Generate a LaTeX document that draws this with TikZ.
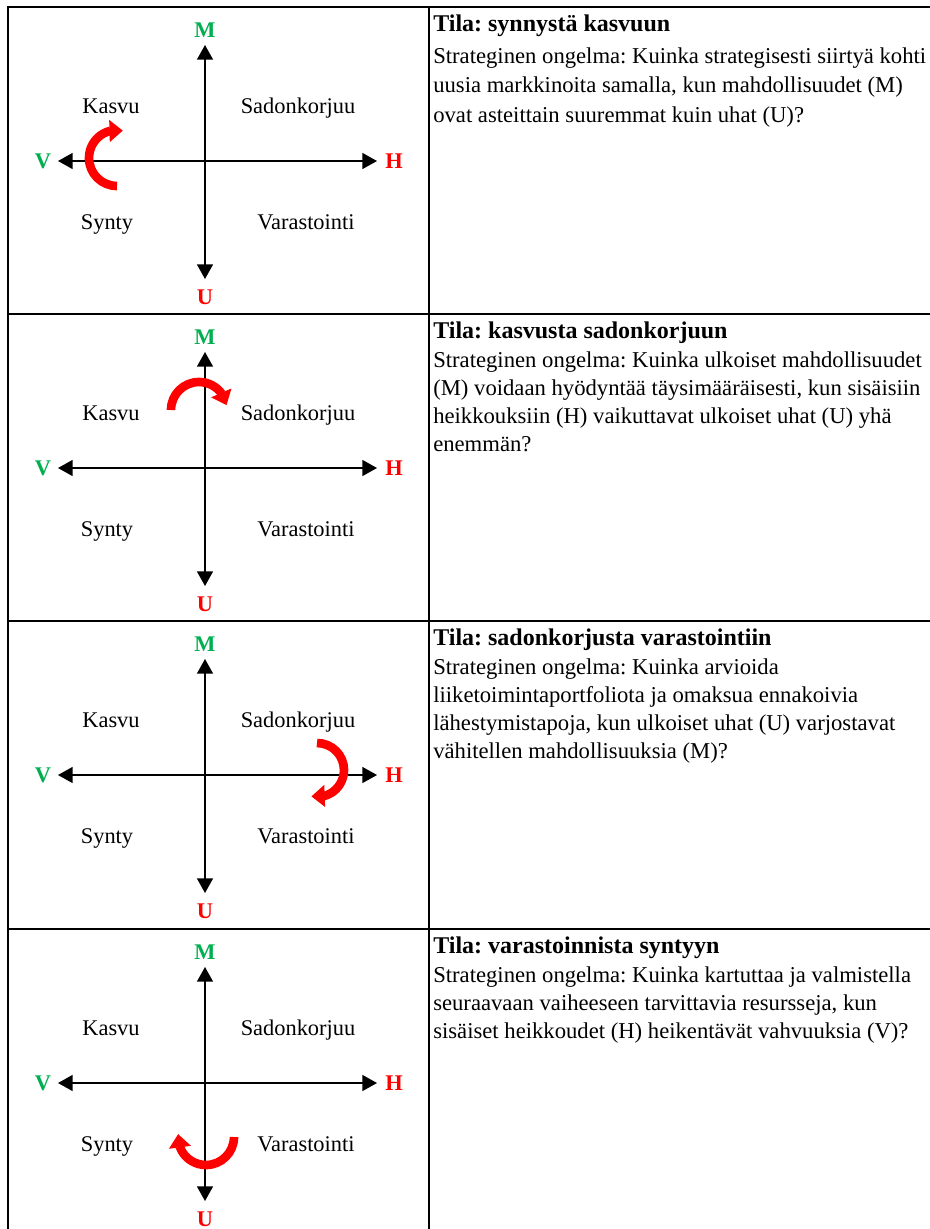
\documentclass[tikz,border=0pt]{standalone}
\usepackage{fontspec}
\setmainfont{Liberation Serif}
\usetikzlibrary{arrows.meta,bending}
\definecolor{xlgreen}{RGB}{0,176,80}
\definecolor{xlred}{RGB}{255,0,0}
\frenchspacing
\begin{document}
\begin{tikzpicture}[x=0.75pt,y=-0.75pt,
  gridline/.style={line width=1.6pt, black},
  axis/.style={line width=1.1pt, {Triangle[width=12pt,length=11pt]}-{Triangle[width=12pt,length=11pt]}},
  quad/.style={font=\fontsize{16.8}{20}\selectfont, inner sep=0pt, anchor=base},
  posl/.style={quad, font=\fontsize{16.8}{20}\selectfont\bfseries, text=xlgreen},
  negl/.style={quad, font=\fontsize{16.8}{20}\selectfont\bfseries, text=xlred},
  head/.style={font=\fontsize{18}{21}\selectfont\bfseries, inner sep=0pt, anchor=base west},
  desc/.style={font=\fontsize{17}{21}\selectfont, inner sep=0pt, anchor=north west, align=left},
  turn/.style={draw=xlred, line width=6.5pt, line cap=butt, -{Triangle[width=16pt,length=10pt,flex]}}]
\useasboundingbox (0,0) rectangle (930,1229);
% table grid
\coordinate (tl) at (8,7);
\coordinate (tr) at (930,7);
\coordinate (bl) at (8,1229);
\coordinate (cm) at (429,7);
\coordinate (cb) at (429,1229);
\draw[gridline] (tr) -- (tl) -- (bl);
\draw[gridline] (cm) -- (cb);
\foreach \y [count=\k] in {314,621,929}{
  \coordinate (rl\k) at (8,\y);
  \coordinate (rr\k) at (930,\y);
  \draw[gridline] (rl\k) -- (rr\k);
}
% quadrant diagrams
\foreach \i/\T in {1/7,2/314,3/621,4/929}{
  \begin{scope}[shift={(0,\T)}]
    \coordinate (top\i) at (205,38);
    \coordinate (bot\i) at (205,272);
    \coordinate (lft\i) at (58,154);
    \coordinate (rgt\i) at (377,154);
    \draw[axis] (top\i) -- (bot\i);
    \draw[axis] (lft\i) -- (rgt\i);
    \node[posl] (M\i) at (205,30) {M};
    \node[negl] (U\i) at (205,297) {U};
    \node[posl] (V\i) at (43,161) {V};
    \node[negl] (H\i) at (394,161) {H};
    \node[quad] (kasvu\i) at (111,106) {Kasvu};
    \node[quad] (sado\i) at (298,106) {Sadonkorjuu};
    \node[quad] (synty\i) at (107,222) {Synty};
    \node[quad] (vara\i) at (306,222) {Varastointi};
  \end{scope}
}
% red turning arrows
\coordinate (c1) at (117,158);
\coordinate (c2) at (199,410);
\coordinate (c3) at (317,770);
\coordinate (c4) at (206,1137);
\draw[turn] (c1) ++(90:28) arc[start angle=90, end angle=282, radius=28];
\draw[turn] (c2) ++(180:28) arc[start angle=180, end angle=350, radius=28];
\draw[turn] (c3) ++(270:27) arc[start angle=270, end angle=462, radius=27];
\draw[turn] (c4) ++(0:28) arc[start angle=0, end angle=186, radius=28];
% descriptions
\node[head] (h1) at (433,31) {Tila: synnystä kasvuun};
\node[desc, font=\fontsize{17}{22.1}\selectfont] (d1) at (433,47.5) {Strateginen ongelma: Kuinka strategisesti siirtyä kohti\\uusia markkinoita samalla, kun mahdollisuudet (M)\\ovat asteittain suuremmat kuin uhat (U)?};
\node[head] (h2) at (433,338) {Tila: kasvusta sadonkorjuun};
\node[desc] (d2) at (433,351.7) {Strateginen ongelma: Kuinka ulkoiset mahdollisuudet\\(M) voidaan hyödyntää täysimääräisesti, kun sisäisiin\\heikkouksiin (H) vaikuttavat ulkoiset uhat (U) yhä\\enemmän?};
\node[head] (h3) at (433,645) {Tila: sadonkorjusta varastointiin};
\node[desc] (d3) at (433,658.7) {Strateginen ongelma: Kuinka arvioida\\liiketoimintaportfoliota ja omaksua ennakoivia\\lähestymistapoja, kun ulkoiset uhat (U) varjostavat\\vähitellen mahdollisuuksia (M)?};
\node[head] (h4) at (433,953) {Tila: varastoinnista syntyyn};
\node[desc] (d4) at (433,966.7) {Strateginen ongelma: Kuinka kartuttaa ja valmistella\\seuraavaan vaiheeseen tarvittavia resursseja, kun\\sisäiset heikkoudet (H) heikentävät vahvuuksia (V)?};
\end{tikzpicture}
\end{document}
